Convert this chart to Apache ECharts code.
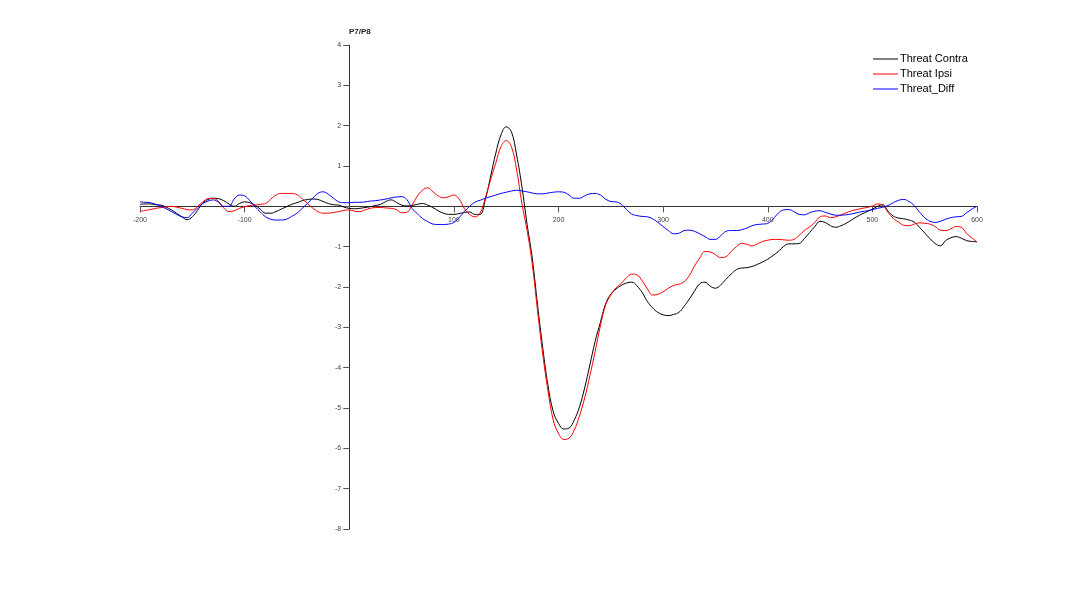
<!DOCTYPE html>
<html>
<head>
<meta charset="utf-8">
<script src="https://cdn.jsdelivr.net/npm/echarts@6/dist/echarts.min.js"></script>
<style>
  html, body { margin: 0; padding: 0; background: #fff; }
  #chart { width: 1080px; height: 595px; }
</style>
</head>
<body>
<div id="chart"></div>
<script>
// sample times in ms, one every 5 ms from -200 to 600
const times = Array.from({ length: 161 }, (_, i) => -200 + i * 5)

const threatContra = [
  0.05, 0.06, 0.06, 0.04, 0.03, -0.02, -0.09, -0.17, -0.26, -0.33,
  -0.26, -0.1, 0.08, 0.17, 0.2, 0.19, 0.14, 0.06, 0.0, 0.07,
  0.11, 0.09, 0.03, -0.07, -0.17, -0.17, -0.13, -0.07, -0.01, 0.05,
  0.09, 0.14, 0.17, 0.18, 0.17, 0.12, 0.07, 0.04, 0.03, -0.02,
  -0.05, -0.06, -0.05, -0.03, -0.01, 0.02, 0.05, 0.12, 0.16, 0.1,
  0.03, 0.01, 0.02, 0.05, 0.07, 0.03, -0.03, -0.11, -0.17, -0.2,
  -0.2, -0.18, -0.15, -0.14, -0.2, -0.2, 0.16, 0.73, 1.31, 1.77,
  1.97, 1.85, 1.27, 0.49, -0.45, -1.3, -2.45, -3.52, -4.45, -5.09,
  -5.38, -5.52, -5.5, -5.3, -4.98, -4.5, -3.93, -3.35, -2.88, -2.42,
  -2.18, -2.05, -1.96, -1.9, -1.88, -1.97, -2.14, -2.36, -2.52, -2.63,
  -2.69, -2.71, -2.68, -2.63, -2.48, -2.3, -2.1, -1.92, -1.88, -1.98,
  -2.03, -1.95, -1.81, -1.68, -1.57, -1.53, -1.52, -1.49, -1.44, -1.38,
  -1.31, -1.22, -1.12, -1.0, -0.93, -0.93, -0.92, -0.8, -0.65, -0.5,
  -0.37, -0.4, -0.48, -0.52, -0.48, -0.42, -0.34, -0.26, -0.19, -0.13,
  -0.07, 0.0, 0.04, -0.12, -0.24, -0.29, -0.31, -0.34, -0.39, -0.52,
  -0.66, -0.8, -0.92, -0.98, -0.85, -0.78, -0.75, -0.79, -0.85, -0.87,
  -0.88
]

const threatIpsi = [
  -0.13, -0.1, -0.08, -0.05, -0.03, -0.01, 0.0, -0.02, -0.05, -0.08,
  -0.09, 0.0, 0.11, 0.19, 0.2, 0.12, -0.04, -0.13, -0.11, -0.05,
  -0.01, 0.02, 0.03, 0.05, 0.07, 0.18, 0.28, 0.32, 0.32, 0.32,
  0.29, 0.19, 0.07, -0.04, -0.13, -0.17, -0.17, -0.15, -0.13, -0.1,
  -0.09, -0.12, -0.13, -0.09, -0.05, -0.03, -0.03, -0.04, -0.05, -0.08,
  -0.16, -0.15, 0.03, 0.25, 0.4, 0.46, 0.36, 0.26, 0.21, 0.24,
  0.28, 0.18, -0.05, -0.2, -0.26, -0.17, 0.2, 0.65, 1.07, 1.48,
  1.63, 1.48, 0.9, 0.07, -0.6, -1.45, -2.6, -3.68, -4.58, -5.3,
  -5.63, -5.78, -5.75, -5.55, -5.2, -4.75, -4.2, -3.6, -2.97, -2.45,
  -2.2, -2.02, -1.91, -1.77, -1.68, -1.7, -1.85, -2.05, -2.2, -2.18,
  -2.12, -2.03, -1.96, -1.93, -1.87, -1.72, -1.48, -1.28, -1.12, -1.13,
  -1.2, -1.27, -1.25, -1.12, -1.0, -0.92, -0.94, -0.98, -0.93, -0.87,
  -0.84, -0.82, -0.82, -0.83, -0.84, -0.82, -0.72, -0.6, -0.51, -0.4,
  -0.26, -0.24, -0.28, -0.26, -0.21, -0.16, -0.11, -0.08, -0.05, -0.03,
  0.01, 0.06, 0.02, -0.15, -0.3, -0.39, -0.47, -0.48, -0.44, -0.41,
  -0.42, -0.44, -0.5, -0.59, -0.6, -0.56, -0.5, -0.52, -0.67, -0.78,
  -0.88
]

const threatDiff = [
  0.11, 0.1, 0.09, 0.05, 0.0, -0.06, -0.13, -0.2, -0.26, -0.28,
  -0.17, -0.04, 0.07, 0.13, 0.16, 0.1, 0.0, 0.0, 0.18, 0.28,
  0.26, 0.14, -0.01, -0.14, -0.26, -0.32, -0.34, -0.34, -0.32, -0.25,
  -0.17, -0.05, 0.07, 0.2, 0.32, 0.36, 0.3, 0.2, 0.11, 0.09,
  0.09, 0.1, 0.1, 0.11, 0.13, 0.14, 0.16, 0.18, 0.21, 0.23,
  0.24, 0.17, -0.05, -0.18, -0.3, -0.38, -0.44, -0.45, -0.45, -0.44,
  -0.4, -0.28, -0.13, 0.0, 0.1, 0.15, 0.2, 0.24, 0.28, 0.32,
  0.35, 0.38, 0.4, 0.38, 0.36, 0.33, 0.31, 0.31, 0.33, 0.35,
  0.36, 0.35, 0.28, 0.2, 0.2, 0.26, 0.31, 0.32, 0.28, 0.18,
  0.12, 0.11, 0.05, -0.08, -0.19, -0.23, -0.25, -0.26, -0.31, -0.4,
  -0.5, -0.6, -0.68, -0.67, -0.6, -0.59, -0.62, -0.68, -0.75, -0.82,
  -0.82, -0.73, -0.62, -0.6, -0.6, -0.58, -0.54, -0.48, -0.45, -0.44,
  -0.42, -0.32, -0.17, -0.09, -0.08, -0.13, -0.2, -0.21, -0.16, -0.12,
  -0.11, -0.15, -0.19, -0.22, -0.22, -0.21, -0.19, -0.16, -0.13, -0.11,
  -0.08, -0.05, -0.02, 0.02, 0.09, 0.15, 0.17, 0.12, 0.02, -0.14,
  -0.28, -0.37, -0.4, -0.37, -0.32, -0.28, -0.26, -0.25, -0.16, -0.07,
  0.0
]

const seriesNames = ['Threat Contra', 'Threat Ipsi', 'Threat_Diff']
const seriesColors = ['#000000', '#ff0000', '#0000ff']

const pairs = vals => times.map((t, i) => [t, vals[i]])

// grid box: x -200..600 over 140..977 px, y 4..-8 over 45..529 px
const gridLeft = 140, gridTop = 45, gridW = 837, gridH = 484
// shift the axes so they cross at (0, 0), labels travel with them
const yAxisShift = -(gridW * 200 / 800)
const xAxisShift = -(gridH * 8 / 12)

const chart = echarts.init(document.getElementById('chart'))
chart.setOption({
  animation: false,
  backgroundColor: '#fff',
  title: {
    text: 'P7/P8',
    left: 349,
    top: 28,
    padding: 0,
    textStyle: { fontFamily: 'Liberation Sans', fontSize: 8, fontWeight: 'bold', color: '#222' }
  },
  legend: {
    orient: 'vertical',
    left: 873,
    top: 53,
    padding: 0,
    itemWidth: 25,
    itemHeight: 1,
    itemGap: 3,
    icon: 'rect',
    data: seriesNames,
    textStyle: { fontFamily: 'Liberation Sans', fontSize: 11, color: '#000', lineHeight: 12, padding: [0, 0, 0, -3] }
  },
  grid: { left: gridLeft, top: gridTop, width: gridW, height: gridH },
  xAxis: {
    type: 'value',
    position: 'bottom',
    offset: xAxisShift,
    min: -200,
    max: 600,
    interval: 100,
    axisLine: { onZero: false, lineStyle: { color: '#333', width: 1 } },
    axisTick: { inside: false, length: 6, lineStyle: { color: '#555' } },
    axisLabel: {
      fontFamily: 'Liberation Sans', fontSize: 7, color: '#444', margin: 10,
      formatter: v => (v === 0 ? '' : String(v))
    },
    splitLine: { show: false }
  },
  yAxis: {
    type: 'value',
    position: 'left',
    offset: yAxisShift,
    min: -8,
    max: 4,
    interval: 1,
    axisLine: { show: true, onZero: false, lineStyle: { color: '#333', width: 1 } },
    axisTick: { show: true, length: 6, lineStyle: { color: '#555' } },
    axisLabel: {
      fontFamily: 'Liberation Sans', fontSize: 7, color: '#444', margin: 8,
      formatter: v => (v === 0 ? '' : String(v))
    },
    splitLine: { show: false }
  },
  series: [threatContra, threatIpsi, threatDiff].map((vals, i) => ({
    name: seriesNames[i],
    type: 'line',
    data: pairs(vals),
    showSymbol: false,
    smooth: 0.4,
    lineStyle: { width: 1, color: seriesColors[i] },
    itemStyle: { color: seriesColors[i] }
  }))
})
</script>
</body>
</html>
